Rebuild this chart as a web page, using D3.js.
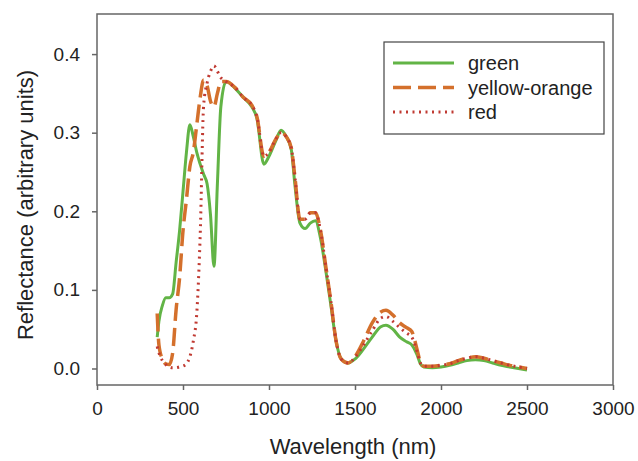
<!DOCTYPE html>
<html lang="en">
<head>
    <meta charset="UTF-8">
    <title>Reflectance spectra</title>
    <script src="https://d3js.org/d3.v7.min.js"></script>
    <style>
        body { margin: 0; background: #fff; }
        text { font-family: "Liberation Sans", Arial, sans-serif; fill: #222; }
        .axis path, .axis line { stroke: #666; stroke-width: 1.5px; }
        .axis text { font-size: 19px; }
    </style>
</head>
<body>
    <script>
        // Wavelength grid (nm) shared by all three spectra
        const wavelengths = [350, 360, 380, 400, 420, 440, 460, 480, 500, 520, 540, 560, 580, 600, 620, 640, 660, 680, 700, 720,
            750, 800, 850, 900, 930, 970, 1000, 1040, 1070, 1100, 1130, 1150, 1180, 1210, 1240, 1270, 1300, 1330, 1360, 1390,
            1420, 1460, 1500, 1550, 1600, 1650, 1680, 1720, 1760, 1800, 1830, 1860, 1880, 1900, 1950, 2000, 2050, 2100, 2150,
            2200, 2250, 2300, 2350, 2400, 2450, 2500];

        const green = [0.040, 0.060, 0.080, 0.090, 0.090, 0.095, 0.135, 0.175, 0.225, 0.275, 0.310, 0.295, 0.275, 0.260, 0.247, 0.235, 0.195, 0.130, 0.235, 0.333,
            0.365, 0.357, 0.345, 0.333, 0.318, 0.260, 0.270, 0.290, 0.303, 0.295, 0.278, 0.235, 0.185, 0.178, 0.185, 0.188, 0.165, 0.125, 0.080, 0.035,
            0.012, 0.007, 0.012, 0.025, 0.040, 0.053, 0.055, 0.050, 0.040, 0.034, 0.030, 0.018, 0.006, 0.002, 0.001, 0.002, 0.004, 0.007, 0.010,
            0.011, 0.010, 0.007, 0.004, 0.002, 0.000, -0.002];

        const yellowOrange = [0.070, 0.030, 0.012, 0.006, 0.005, 0.020, 0.075, 0.115, 0.175, 0.215, 0.257, 0.275, 0.310, 0.345, 0.367, 0.360, 0.340, 0.333, 0.350, 0.365,
            0.365, 0.358, 0.345, 0.335, 0.320, 0.270, 0.275, 0.292, 0.300, 0.295, 0.280, 0.245, 0.190, 0.190, 0.198, 0.198, 0.175, 0.130, 0.085, 0.035,
            0.012, 0.007, 0.015, 0.035, 0.058, 0.072, 0.074, 0.068, 0.058, 0.052, 0.047, 0.025, 0.008, 0.003, 0.003, 0.004, 0.006, 0.010, 0.013,
            0.015, 0.013, 0.010, 0.007, 0.004, 0.002, 0.000];

        const red = [0.028, 0.020, 0.010, 0.005, 0.002, 0.001, 0.001, 0.002, 0.003, 0.006, 0.015, 0.035, 0.070, 0.170, 0.335, 0.363, 0.378, 0.385, 0.378, 0.370,
            0.365, 0.358, 0.345, 0.335, 0.320, 0.270, 0.275, 0.292, 0.300, 0.295, 0.280, 0.245, 0.190, 0.190, 0.198, 0.198, 0.175, 0.130, 0.085, 0.035,
            0.012, 0.007, 0.014, 0.030, 0.048, 0.064, 0.066, 0.060, 0.052, 0.045, 0.040, 0.022, 0.007, 0.003, 0.003, 0.004, 0.006, 0.010, 0.013,
            0.015, 0.013, 0.010, 0.007, 0.004, 0.002, 0.000];

        const seriesNames = ["green", "yellow-orange", "red"];
        const xTicks = [0, 500, 1000, 1500, 2000, 2500, 3000];
        const yTicks = [0.0, 0.1, 0.2, 0.3, 0.4];

        const width = 638, height = 461;
        const plotLeft = 97, plotRight = 613, plotTop = 14, plotBottom = 385;

        const svg = d3.select("body").append("svg")
            .attr("width", width)
            .attr("height", height);

        const x = d3.scaleLinear().domain([0, 3000]).range([plotLeft, plotRight]);
        const y = d3.scaleLinear().domain([-0.021, 0.451]).range([plotBottom, plotTop]);

        // Axes
        svg.append("g")
            .attr("class", "axis")
            .attr("transform", `translate(0,${plotBottom})`)
            .call(d3.axisBottom(x).tickValues(xTicks).tickFormat(d3.format("d")).tickSize(5).tickSizeOuter(0).tickPadding(12))
            .call(g => g.select(".domain").remove());

        svg.append("g")
            .attr("class", "axis")
            .attr("transform", `translate(${plotLeft},0)`)
            .call(d3.axisLeft(y).tickValues(yTicks).tickFormat(d3.format(".1f")).tickSize(5).tickSizeOuter(0).tickPadding(12))
            .call(g => g.select(".domain").remove());

        // Frame
        svg.append("rect")
            .attr("x", plotLeft).attr("y", plotTop)
            .attr("width", plotRight - plotLeft).attr("height", plotBottom - plotTop)
            .attr("fill", "none")
            .attr("stroke", "#666")
            .attr("stroke-width", 1.5);

        // Series
        const styles = [
            { values: green, color: "#62b446", width: 3, dash: null },
            { values: yellowOrange, color: "#d4702c", width: 3.5, dash: "18,7" },
            { values: red, color: "#c03a32", width: 3, dash: "2,4.5" }
        ];

        const line = d3.line()
            .x(d => x(d[0]))
            .y(d => y(d[1]))
            .curve(d3.curveMonotoneX);

        styles.forEach(s => {
            svg.append("path")
                .datum(wavelengths.map((w, i) => [w, s.values[i]]))
                .attr("fill", "none")
                .attr("stroke", s.color)
                .attr("stroke-width", s.width)
                .attr("stroke-dasharray", s.dash)
                .attr("d", line);
        });

        // Legend
        const legend = svg.append("g");
        legend.append("rect")
            .attr("x", 384).attr("y", 42)
            .attr("width", 220).attr("height", 92)
            .attr("fill", "#fff")
            .attr("stroke", "#444")
            .attr("stroke-width", 1.2);

        seriesNames.forEach((name, i) => {
            const ly = 63 + i * 24.5;
            legend.append("line")
                .attr("x1", 393).attr("x2", 454)
                .attr("y1", ly).attr("y2", ly)
                .attr("stroke", styles[i].color)
                .attr("stroke-width", styles[i].width)
                .attr("stroke-dasharray", styles[i].dash);
            legend.append("text")
                .attr("x", 468).attr("y", ly + 7)
                .style("font-size", "20px")
                .text(name);
        });

        // Axis titles
        svg.append("text")
            .attr("x", (plotLeft + plotRight) / 2 - 2)
            .attr("y", 454)
            .attr("text-anchor", "middle")
            .style("font-size", "22px")
            .text("Wavelength (nm)");

        svg.append("text")
            .attr("transform", "translate(33,205) rotate(-90)")
            .attr("text-anchor", "middle")
            .style("font-size", "22px")
            .text("Reflectance (arbitrary units)");
    </script>
</body>
</html>
